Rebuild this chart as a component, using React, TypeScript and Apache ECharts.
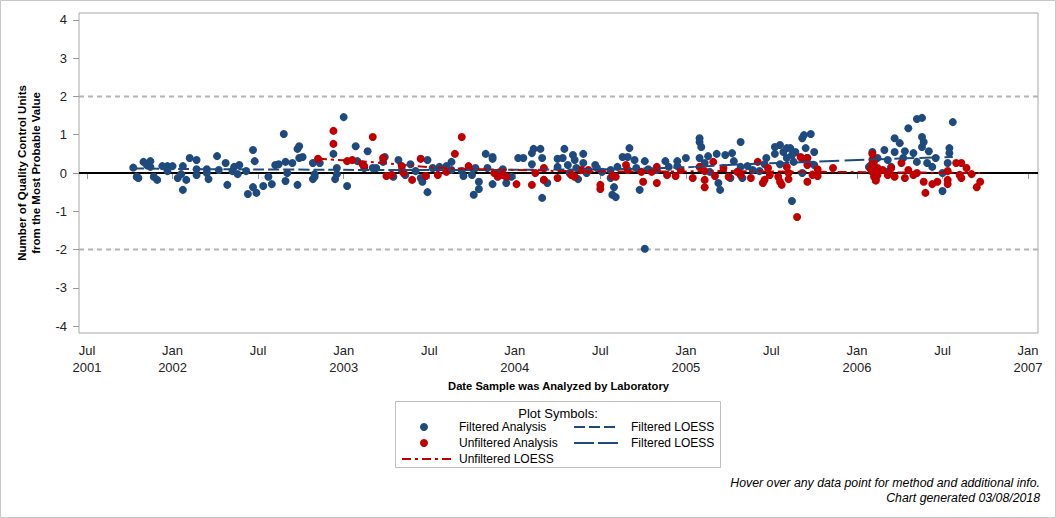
import React, { useEffect, useRef } from "react";
import * as echarts from "echarts";

const FONT = "'Liberation Sans', Arial, sans-serif";
const BLUE = "#1f4a7e";
const RED = "#c00000";

const X_MIN = 2001.453;
const X_MAX = 2007.058;
const Y_MIN = -4.18;
const Y_MAX = 4.18;

const xTickValues = [2001.5, 2002, 2002.5, 2003, 2003.5, 2004, 2004.5, 2005, 2005.5, 2006, 2006.5, 2007];
const xTickLabels = [
  "Jul\n2001", "Jan\n2002", "Jul", "Jan\n2003", "Jul", "Jan\n2004",
  "Jul", "Jan\n2005", "Jul", "Jan\n2006", "Jul", "Jan\n2007",
];
const yTickValues = [-4, -3, -2, -1, 0, 1, 2, 3, 4];
const controlLimits = [-2, 2];
const centerLine = 0;

const filteredAnalysis: [number, number][] = [
  [2001.77, 0.14], [2001.79, -0.1], [2001.8, -0.13], [2001.83, 0.29], [2001.85, 0.2], [2001.87, 0.31], [2001.87, 0.16],
  [2001.89, -0.1], [2001.91, -0.18], [2001.94, 0.18], [2001.97, 0.18], [2001.97, 0.05], [2002.0, 0.18], [2002.03, -0.13],
  [2002.05, -0.03], [2002.06, 0.18], [2002.06, -0.44], [2002.08, -0.18], [2002.1, 0.39], [2002.14, 0.34], [2002.14, 0.1],
  [2002.14, -0.05], [2002.2, 0.1], [2002.2, 0.0], [2002.21, -0.16], [2002.26, 0.44], [2002.27, 0.08], [2002.31, 0.26],
  [2002.32, -0.31], [2002.35, 0.05], [2002.36, 0.16], [2002.38, -0.03], [2002.39, 0.21], [2002.43, 0.05], [2002.44, -0.55],
  [2002.47, 0.6], [2002.47, -0.37], [2002.48, 0.31], [2002.49, -0.52], [2002.53, -0.34], [2002.56, -0.1], [2002.58, -0.29],
  [2002.6, 0.21], [2002.62, 0.23], [2002.65, 1.02], [2002.66, 0.29], [2002.66, -0.21], [2002.67, 0.0], [2002.7, 0.26],
  [2002.73, 0.63], [2002.73, -0.31], [2002.74, 0.7], [2002.74, 0.39], [2002.76, 0.42], [2002.82, 0.26], [2002.82, -0.16],
  [2002.83, -0.03], [2002.83, -0.1], [2002.86, 0.26], [2002.94, 0.5], [2002.95, -0.16], [2002.96, 0.13], [2002.96, -0.03],
  [2003.0, 1.46], [2003.02, -0.34], [2003.07, 0.7], [2003.08, 0.31], [2003.12, 0.13], [2003.14, 0.57], [2003.17, 0.13],
  [2003.19, 0.13], [2003.23, 0.29], [2003.24, 0.42], [2003.29, -0.1], [2003.32, 0.34], [2003.34, 0.08], [2003.36, -0.05],
  [2003.39, 0.23], [2003.42, 0.05], [2003.45, -0.13], [2003.46, -0.23], [2003.49, -0.5], [2003.49, 0.34], [2003.52, 0.13],
  [2003.56, 0.16], [2003.6, 0.18], [2003.63, 0.29], [2003.63, 0.08], [2003.69, 0.05], [2003.7, -0.08], [2003.75, -0.05],
  [2003.76, -0.57], [2003.77, 0.13], [2003.79, -0.42], [2003.79, -0.23], [2003.83, 0.5], [2003.84, 0.13], [2003.87, 0.42],
  [2003.87, 0.37], [2003.87, -0.29], [2003.9, 0.0], [2003.93, 0.1], [2003.95, -0.26], [2003.98, -0.1], [2004.02, 0.39],
  [2004.05, 0.39], [2004.1, 0.52], [2004.11, 0.63], [2004.1, 0.23], [2004.15, 0.63], [2004.16, 0.39], [2004.16, -0.65],
  [2004.17, -0.18], [2004.19, -0.26], [2004.25, 0.37], [2004.25, 0.16], [2004.28, 0.39], [2004.29, 0.63], [2004.31, 0.21],
  [2004.32, 0.0], [2004.34, 0.47], [2004.35, 0.34], [2004.36, 0.13], [2004.37, -0.16], [2004.4, 0.5], [2004.4, 0.26],
  [2004.42, 0.0], [2004.47, 0.21], [2004.48, 0.13], [2004.51, 0.03], [2004.56, 0.08], [2004.56, -0.13], [2004.57, -0.57],
  [2004.58, -0.37], [2004.59, -0.63], [2004.6, 0.16], [2004.63, 0.42], [2004.66, 0.42], [2004.67, 0.65], [2004.7, 0.34],
  [2004.71, 0.13], [2004.73, -0.44], [2004.76, 0.31], [2004.76, -1.98], [2004.78, 0.1], [2004.83, 0.08], [2004.88, 0.31],
  [2004.9, 0.16], [2004.95, 0.31], [2004.95, 0.18], [2005.0, 0.39], [2005.08, 0.91], [2005.08, 0.81], [2005.09, 0.68],
  [2005.08, 0.39], [2005.11, 0.26], [2005.13, 0.44], [2005.14, 0.03], [2005.18, 0.5], [2005.19, -0.26], [2005.2, -0.44],
  [2005.23, 0.47], [2005.26, -0.13], [2005.27, 0.52], [2005.28, 0.31], [2005.32, 0.16], [2005.32, 0.81], [2005.33, -0.13],
  [2005.36, 0.18], [2005.39, 0.08], [2005.43, 0.05], [2005.47, 0.39], [2005.46, 0.23], [2005.52, 0.68], [2005.52, 0.5],
  [2005.55, 0.73], [2005.55, 0.23], [2005.57, 0.55], [2005.59, 0.65], [2005.59, 0.39], [2005.61, 0.65], [2005.62, 0.47],
  [2005.63, 0.29], [2005.64, 0.55], [2005.62, -0.73], [2005.68, 0.0], [2005.68, 0.91], [2005.69, 0.99], [2005.73, 1.02],
  [2005.7, 0.65], [2005.71, 0.39], [2005.75, 0.55], [2005.75, 0.21], [2006.07, 0.16], [2006.08, 0.2], [2006.09, 0.55],
  [2006.1, 0.1], [2006.12, 0.39], [2006.16, 0.6], [2006.18, 0.03], [2006.18, 0.34], [2006.2, 0.16], [2006.22, 0.91],
  [2006.22, 0.55], [2006.25, 0.78], [2006.27, 0.39], [2006.28, 0.57], [2006.3, 1.17], [2006.33, 0.52], [2006.35, 1.41],
  [2006.35, 0.29], [2006.38, 1.44], [2006.38, 0.94], [2006.39, 0.81], [2006.38, 0.68], [2006.41, 0.26], [2006.42, 0.57],
  [2006.44, 0.16], [2006.46, 0.39], [2006.5, -0.47], [2006.5, 0.0], [2006.53, 0.26], [2006.54, 0.65], [2006.54, 0.52],
  [2006.56, 1.33],
];

const unfilteredAnalysis: [number, number][] = [
  [2002.85, 0.37], [2002.94, 1.1], [2002.94, 0.76], [2003.02, 0.31], [2003.05, 0.34], [2003.11, 0.23], [2003.12, 0.18],
  [2003.17, 0.94], [2003.23, 0.39], [2003.25, -0.08], [2003.28, -0.05], [2003.34, 0.18], [2003.35, 0.0], [2003.4, -0.18],
  [2003.45, 0.37], [2003.48, -0.08], [2003.55, -0.05], [2003.6, 0.03], [2003.65, 0.5], [2003.69, 0.94], [2003.73, 0.18],
  [2003.88, 0.0], [2003.9, -0.1], [2003.93, -0.05], [2003.95, -0.1], [2004.01, -0.29], [2004.1, -0.31], [2004.12, 0.0],
  [2004.17, 0.13], [2004.17, -0.18], [2004.25, -0.13], [2004.33, -0.05], [2004.35, -0.1], [2004.39, 0.08], [2004.43, 0.08],
  [2004.5, -0.31], [2004.5, -0.42], [2004.57, -0.08], [2004.59, -0.1], [2004.65, 0.21], [2004.66, 0.08], [2004.74, 0.03],
  [2004.75, -0.23], [2004.8, 0.03], [2004.83, 0.16], [2004.83, -0.26], [2004.89, -0.05], [2004.94, -0.08], [2004.97, 0.08],
  [2005.04, -0.13], [2005.08, 0.16], [2005.11, 0.05], [2005.11, -0.18], [2005.11, -0.37], [2005.16, 0.29], [2005.17, -0.08],
  [2005.22, 0.13], [2005.25, -0.1], [2005.3, 0.03], [2005.32, -0.05], [2005.38, -0.13], [2005.42, 0.29], [2005.45, -0.26],
  [2005.46, -0.18], [2005.48, 0.13], [2005.49, -0.05], [2005.54, -0.1], [2005.55, -0.23], [2005.56, -0.31], [2005.59, 0.16],
  [2005.6, -0.16], [2005.6, 0.0], [2005.65, -1.15], [2005.67, 0.42], [2005.68, 0.37], [2005.71, 0.39], [2005.71, 0.21],
  [2005.71, -0.23], [2005.74, -0.05], [2005.77, 0.1], [2005.77, -0.08], [2005.86, 0.13], [2006.08, 0.1], [2006.09, 0.5],
  [2006.09, 0.21], [2006.09, 0.35], [2006.09, 0.03], [2006.1, -0.1], [2006.1, 0.3], [2006.11, -0.2], [2006.11, -0.16],
  [2006.12, 0.13], [2006.12, -0.05], [2006.15, 0.08], [2006.18, -0.05], [2006.2, 0.13], [2006.22, -0.1], [2006.26, 0.26],
  [2006.28, -0.13], [2006.3, 0.08], [2006.33, -0.05], [2006.35, 0.0], [2006.39, -0.23], [2006.4, -0.52], [2006.44, -0.29],
  [2006.47, -0.23], [2006.53, 0.05], [2006.53, -0.18], [2006.53, -0.29], [2006.58, 0.26], [2006.61, 0.26], [2006.6, -0.05],
  [2006.61, -0.13], [2006.64, 0.13], [2006.67, -0.03], [2006.7, -0.37], [2006.72, -0.23],
];

const filteredLoessA: [number, number][] = [
  [2001.77, 0.12], [2002.2, 0.1], [2002.7, 0.09], [2003.2, 0.08], [2003.7, 0.08], [2004.2, 0.09], [2004.7, 0.11], [2005.05, 0.16],
];
const filteredLoessB: [number, number][] = [
  [2005.05, 0.16], [2005.3, 0.22], [2005.6, 0.27], [2005.9, 0.32], [2006.2, 0.37], [2006.56, 0.42],
];
const unfilteredLoess: [number, number][] = [
  [2002.85, 0.37], [2003.0, 0.33], [2003.2, 0.27], [2003.4, 0.19], [2003.6, 0.13], [2003.8, 0.1], [2004.0, 0.08],
  [2004.3, 0.05], [2004.6, 0.04], [2004.9, 0.04], [2005.2, 0.05], [2005.5, 0.04], [2005.8, 0.03], [2006.1, 0.02],
  [2006.4, 0.01], [2006.72, 0.0],
];

function xLabel(v: number): string {
  const i = xTickValues.findIndex((t) => Math.abs(t - v) < 1e-6);
  return i >= 0 ? xTickLabels[i] : "";
}

export default function App() {
  const ref = useRef<HTMLDivElement>(null);
  useEffect(() => {
    if (!ref.current) return;
    const chart = echarts.init(ref.current, undefined, { renderer: "svg" });
    const refLine = (y: number, color: string, width: number, dash: any, z: number) => ({
      type: "line",
      data: [[X_MIN, y], [X_MAX, y]],
      symbol: "none",
      silent: true,
      z,
      lineStyle: { color, width, type: dash },
    });
    const option: any = {
      animation: false,
      backgroundColor: "#ffffff",
      textStyle: { fontFamily: FONT },
      grid: { left: 79, top: 13, width: 959, height: 320, show: true, borderColor: "#a8a8a8", borderWidth: 1 },
      xAxis: {
        type: "value",
        min: X_MIN,
        max: X_MAX,
        name: "Date Sample was Analyzed by Laboratory",
        nameLocation: "middle",
        nameGap: 47,
        nameTextStyle: { fontFamily: FONT, fontWeight: "bold", fontSize: 11.2, color: "#000" },
        axisLine: { show: false },
        splitLine: { show: false },
        axisTick: { show: true, customValues: xTickValues, length: 6, lineStyle: { color: "#999" } },
        axisLabel: {
          customValues: xTickValues,
          formatter: (v: number) => xLabel(v),
          fontFamily: FONT,
          fontSize: 13,
          lineHeight: 17,
          color: "#222",
          margin: 9,
        },
      },
      yAxis: {
        type: "value",
        min: Y_MIN,
        max: Y_MAX,
        name: "Number of Quality Control Units\nfrom the Most Probable Value",
        nameLocation: "middle",
        nameGap: 36,
        nameTextStyle: { fontFamily: FONT, fontWeight: "bold", fontSize: 11.5, lineHeight: 14, color: "#000" },
        axisLine: { show: false },
        splitLine: { show: false },
        axisTick: { show: true, customValues: yTickValues, length: 6, lineStyle: { color: "#999" } },
        axisLabel: {
          customValues: yTickValues,
          formatter: (v: number) => String(v),
          fontFamily: FONT,
          fontSize: 13,
          color: "#222",
          margin: 12,
        },
      },
      series: [
        refLine(controlLimits[0], "#b4b4b4", 2, [5, 4], 1),
        refLine(controlLimits[1], "#b4b4b4", 2, [5, 4], 1),
        refLine(centerLine, "#000000", 2, "solid", 1),
        {
          name: "Filtered Analysis",
          type: "scatter",
          data: filteredAnalysis,
          symbol: "circle",
          symbolSize: 8,
          itemStyle: { color: BLUE, opacity: 1 },
          z: 3,
        },
        {
          name: "Unfiltered Analysis",
          type: "scatter",
          data: unfilteredAnalysis,
          symbol: "circle",
          symbolSize: 8,
          itemStyle: { color: RED, opacity: 1 },
          z: 4,
        },
        {
          name: "Filtered LOESS",
          type: "line",
          data: filteredLoessA,
          symbol: "none",
          smooth: true,
          z: 5,
          lineStyle: { color: BLUE, width: 2, type: [11, 4] },
        },
        {
          name: "Filtered LOESS ",
          type: "line",
          data: filteredLoessB,
          symbol: "none",
          smooth: true,
          z: 5,
          lineStyle: { color: BLUE, width: 2, type: [20, 5] },
        },
        {
          name: "Unfiltered LOESS",
          type: "line",
          data: unfilteredLoess,
          symbol: "none",
          smooth: true,
          z: 6,
          lineStyle: { color: RED, width: 2, type: [9, 4, 3, 4] },
        },
      ],
      graphic: [
        {
          type: "rect",
          silent: true,
          shape: { x: 0.5, y: 0.5, width: 1055, height: 517 },
          style: { fill: "none", stroke: "#c8c8c8", lineWidth: 1 },
          z: -1,
        },
        {
          type: "rect",
          silent: true,
          shape: { x: 395.5, y: 401.5, width: 325, height: 66 },
          style: { fill: "#fff", stroke: "#c0c0c0", lineWidth: 1 },
        },
        {
          type: "text",
          x: 558,
          y: 413,
          style: { text: "Plot Symbols:", font: `13px ${FONT}`, fill: "#000", align: "center", verticalAlign: "middle" },
        },
        { type: "circle", shape: { cx: 424, cy: 427, r: 4 }, style: { fill: BLUE } },
        {
          type: "text",
          x: 459,
          y: 427,
          style: { text: "Filtered Analysis", font: `12px ${FONT}`, fill: "#000", verticalAlign: "middle" },
        },
        { type: "circle", shape: { cx: 424, cy: 443, r: 4 }, style: { fill: RED } },
        {
          type: "text",
          x: 459,
          y: 443,
          style: { text: "Unfiltered Analysis", font: `12px ${FONT}`, fill: "#000", verticalAlign: "middle" },
        },
        {
          type: "line",
          shape: { x1: 402, y1: 459, x2: 451, y2: 459 },
          style: { stroke: RED, lineWidth: 2, lineDash: [9, 4, 3, 4] },
        },
        {
          type: "text",
          x: 459,
          y: 459,
          style: { text: "Unfiltered LOESS", font: `12px ${FONT}`, fill: "#000", verticalAlign: "middle" },
        },
        {
          type: "line",
          shape: { x1: 574, y1: 427, x2: 618, y2: 427 },
          style: { stroke: BLUE, lineWidth: 2, lineDash: [11, 4] },
        },
        {
          type: "text",
          x: 631,
          y: 427,
          style: { text: "Filtered LOESS", font: `12px ${FONT}`, fill: "#000", verticalAlign: "middle" },
        },
        {
          type: "line",
          shape: { x1: 574, y1: 443, x2: 618, y2: 443 },
          style: { stroke: BLUE, lineWidth: 2, lineDash: [20, 4] },
        },
        {
          type: "text",
          x: 631,
          y: 443,
          style: { text: "Filtered LOESS", font: `12px ${FONT}`, fill: "#000", verticalAlign: "middle" },
        },
        {
          type: "text",
          x: 1040,
          y: 483,
          style: {
            text: "Hover over any data point for method and additional info.",
            font: `italic 12.3px ${FONT}`,
            fill: "#000",
            align: "right",
            verticalAlign: "middle",
          },
        },
        {
          type: "text",
          x: 1040,
          y: 498,
          style: {
            text: "Chart generated 03/08/2018",
            font: `italic 12.3px ${FONT}`,
            fill: "#000",
            align: "right",
            verticalAlign: "middle",
          },
        },
      ],
    };
    chart.setOption(option);
    return () => chart.dispose();
  }, []);
  return <div ref={ref} style={{ position: "absolute", left: 0, top: 0, width: 1056, height: 518 }} />;
}
